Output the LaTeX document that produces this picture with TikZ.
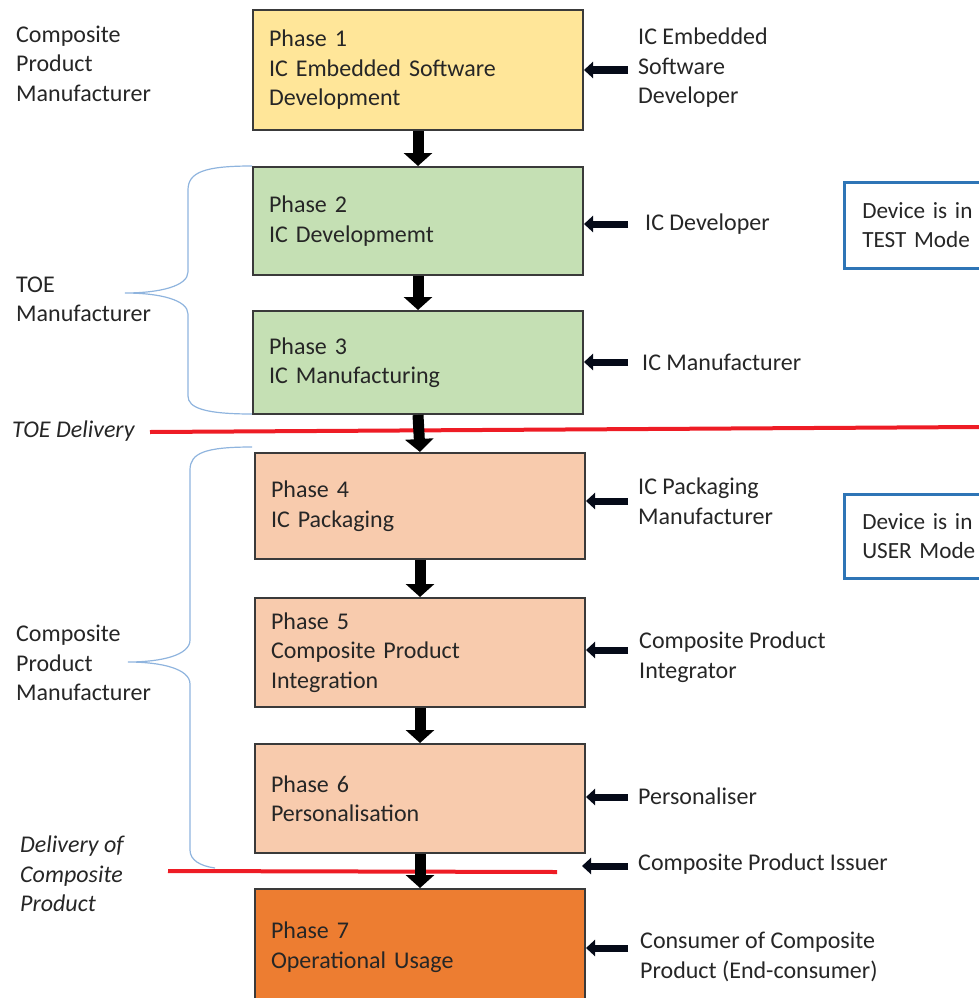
\documentclass[tikz,border=0pt]{standalone}
\usepackage{fontspec}
\setmainfont{Carlito}
\usetikzlibrary{arrows.meta}
\definecolor{ph1}{HTML}{FFE699}
\definecolor{phg}{HTML}{C5E0B4}
\definecolor{pho}{HTML}{F8CBAD}
\definecolor{ph7}{HTML}{ED7D31}
\definecolor{boxline}{HTML}{3A3A3A}
\definecolor{modeblue}{HTML}{2E75B6}
\definecolor{bracecol}{HTML}{8FB4DE}
\definecolor{redline}{HTML}{EE1C25}
\definecolor{arrowedge}{HTML}{050A18}
\begin{document}
\begin{tikzpicture}[x=1pt,y=-1pt,
  every node/.style={font=\fontsize{24}{29.5}\selectfont, text=black!85},
  phasebox/.style={draw=boxline, line width=2pt, anchor=north west, align=left,
    text width=298pt, inner xsep=16pt, inner ysep=0pt},
  lbl/.style={anchor=west, align=left, inner sep=0pt},
  modebox/.style={draw=modeblue, line width=2.5pt, anchor=north west, align=left,
    text width=130pt, inner xsep=18pt, inner ysep=0pt,
    font=\fontsize{23.2}{28.5}\selectfont},
  vflow/.style={line width=11pt, -{Triangle[width=28pt,length=13pt]}},
  sideflow/.style={line width=7pt, arrowedge, -{Triangle[width=16pt,length=9pt]}},
  brace/.style={draw=bracecol, line width=1.2pt},
  redrule/.style={draw=redline, line width=4pt}]
\path[use as bounding box] (0,0) rectangle (979,998);
\clip (0,0) rectangle (979,998);

% braces
\draw[brace] (252,166) .. controls (205,166) and (188,172) .. (188,190) -- (188,272)
  .. controls (188,286) and (160,293) .. (125,293)
  .. controls (160,293) and (188,300) .. (188,314) -- (188,396)
  .. controls (188,408) and (205,414) .. (252,414);
\draw[brace] (252,447) .. controls (205,447) and (190,453) .. (190,470) -- (190,640)
  .. controls (190,655) and (162,662) .. (128,662)
  .. controls (162,662) and (190,669) .. (190,684) -- (190,850)
  .. controls (190,860) and (200,866) .. (215,868);

% phase boxes
\node[phasebox, fill=ph1, minimum height=120pt] (p1) at (252,9) {Phase 1\\IC Embedded Software\\Development};
\node[phasebox, fill=phg, minimum height=108pt] (p2) at (252,166) {Phase 2\\IC Developmemt};
\node[phasebox, fill=phg, minimum height=103pt] (p3) at (252,310) {Phase 3\\IC Manufacturing};
\node[phasebox, fill=pho, minimum height=106pt] (p4) at (254,452) {Phase 4\\IC Packaging};
\node[phasebox, fill=pho, minimum height=109pt] (p5) at (254,597) {Phase 5\\Composite Product\\Integration};
\node[phasebox, fill=pho, minimum height=109pt] (p6) at (254,743) {Phase 6\\Personalisation};
\node[phasebox, fill=ph7, minimum height=116pt] (p7) at (254,888) {Phase 7\\Operational Usage};

% red delivery lines
\coordinate (r1a) at (150,432);
\coordinate (r1b) at (979,427);
\coordinate (r2a) at (168,871);
\coordinate (r2b) at (557,872);
\draw[redrule] (r1a) -- (r1b);
\draw[redrule] (r2a) -- (r2b);

% flow arrows
\draw[vflow] (p1.south) -- (p2.north);
\draw[vflow] (p2.south) -- (p3.north);
\draw[vflow] (p3.south) -- (p4.north);
\draw[vflow] (p4.south) -- (p5.north);
\draw[vflow] (p5.south) -- (p6.north);
\draw[vflow] (p6.south) -- (p7.north);

% left labels
\node[lbl] (l1) at (16,63.5) {Composite\\Product\\Manufacturer};
\node[lbl] (l2) at (16,299.5) {TOE\\Manufacturer};
\node[lbl, font=\fontsize{24}{29.5}\selectfont\itshape] (l3) at (12,431) {TOE Delivery};
\node[lbl] (l4) at (16,663) {Composite\\Product\\Manufacturer};
\node[lbl, font=\fontsize{24}{29.5}\selectfont\itshape] (l5) at (20,874) {Delivery of\\Composite\\Product};

% right labels
\node[lbl] (r1) at (638,68) {IC Embedded\\Software\\Developer};
\node[lbl] (r2) at (645,224) {IC Developer};
\node[lbl] (r3) at (642,362) {IC Manufacturer};
\node[lbl] (r4) at (638,501) {IC Packaging\\Manufacturer};
\node[lbl] (r5) at (639,657) {Composite Product\\Integrator};
\node[lbl] (r6) at (638,796) {Personaliser};
\node[lbl] (r7) at (638,864) {Composite Product Issuer};
\node[lbl] (r8) at (640,957) {Consumer of Composite\\Product (End-consumer)};

% side arrows
\coordinate (s1) at (628,70);
\coordinate (s2) at (628,224);
\coordinate (s3) at (628,362);
\coordinate (s4) at (628,501);
\coordinate (s5) at (628,650);
\coordinate (s6) at (628,797);
\coordinate (s7) at (628,866);
\coordinate (s7e) at (582,866);
\coordinate (s8) at (628,948);
\draw[sideflow] (s1) -- (p1.east |- s1);
\draw[sideflow] (s2) -- (p2.east |- s2);
\draw[sideflow] (s3) -- (p3.east |- s3);
\draw[sideflow] (s4) -- (p4.east |- s4);
\draw[sideflow] (s5) -- (p5.east |- s5);
\draw[sideflow] (s6) -- (p6.east |- s6);
\draw[sideflow] (s7) -- (s7e);
\draw[sideflow] (s8) -- (p7.east |- s8);

% mode boxes
\node[modebox, minimum height=86pt] (m1) at (843,181) {Device is in\\TEST Mode};
\node[modebox, minimum height=84pt] (m2) at (843,493) {Device is in\\USER Mode};
\end{tikzpicture}
\end{document}
